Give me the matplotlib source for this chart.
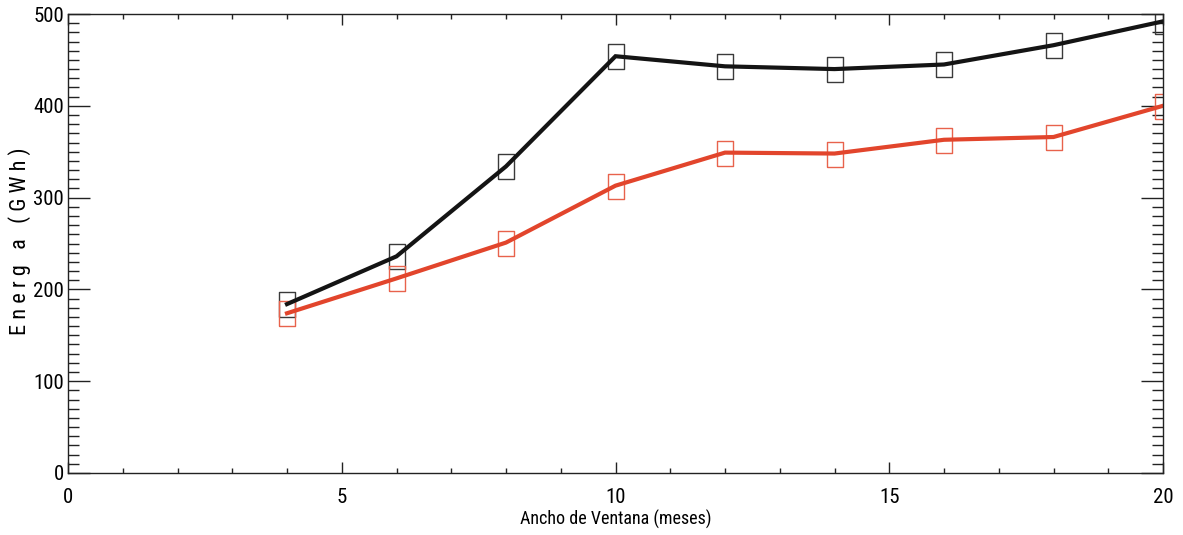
import numpy as np
import matplotlib
matplotlib.use('Agg')
import matplotlib.pyplot as plt
from matplotlib import font_manager
from matplotlib.ticker import MultipleLocator

# prefer a narrow sans face if one is around
nombres = {f.name for f in font_manager.fontManager.ttflist}
familia = 'Liberation Sans'
for cand in ['Liberation Sans Narrow', 'Roboto Condensed', 'Open Sans Condensed',
             'DejaVu Sans Condensed', 'Noto Sans Condensed']:
    if cand in nombres:
        familia = cand
        break
plt.rcParams['font.family'] = [familia, 'DejaVu Sans']
estrecha = familia != 'Liberation Sans'

# window width (months) vs energy for the two series
ancho = [4, 6, 8, 10, 12, 14, 16, 18, 20]
energia_negra = [184, 236, 334, 454, 443, 440, 445, 466, 492]
energia_roja = [174, 212, 251, 313, 349, 348, 363, 366, 400]

color_negro = '#141414'
color_rojo = '#e2452c'

# tall open rectangle used as marker
rect = [(-0.64, -1), (0.64, -1), (0.64, 1), (-0.64, 1), (-0.64, -1)]

fig = plt.figure(figsize=(11.83, 5.35), dpi=100)
ax = fig.add_axes([68 / 1183, 1 - 473 / 535, (1163 - 68) / 1183, (473 - 14) / 535])

ax.plot(ancho, energia_negra, ls='none', marker=rect, markersize=18,
        mfc='none', mec='#3a3a3a', mew=1.0)
ax.plot(ancho, energia_roja, ls='none', marker=rect, markersize=18,
        mfc='none', mec='#e8624c', mew=1.0)
ax.plot(ancho, energia_negra, color=color_negro, lw=3.0, solid_joinstyle='miter')
ax.plot(ancho, energia_roja, color=color_rojo, lw=3.0, solid_joinstyle='miter')

ax.set_xlim(0, 20)
ax.set_ylim(0, 500)
ax.xaxis.set_major_locator(MultipleLocator(5))
ax.xaxis.set_minor_locator(MultipleLocator(1))
ax.yaxis.set_major_locator(MultipleLocator(100))
ax.yaxis.set_minor_locator(MultipleLocator(10))

tam = 15 if estrecha else 13
ax.tick_params(axis='both', which='both', direction='in', top=True, right=True,
               width=1.0, color='#222222', labelsize=tam)
ax.tick_params(axis='x', which='major', length=7.7, pad=11)
ax.tick_params(axis='x', which='minor', length=3.6)
ax.tick_params(axis='y', which='major', length=15.8, pad=3)
ax.tick_params(axis='y', which='minor', length=7.9)
for s in ax.spines.values():
    s.set_linewidth(1.0)
    s.set_color('#222222')

# keep the end labels inside the axis range
ylab = ax.get_yticklabels()
ylab[0].set_va('bottom')
ylab[-1].set_va('top')

ax.set_xlabel('Ancho de Ventana (meses)', fontsize=13 if estrecha else 12, labelpad=2)
ax.set_ylabel('E n e r g   a   ( G W h )', fontsize=16 if estrecha else 14)
ax.yaxis.set_label_coords(-37 / 1095, 0.505)

plt.savefig('out.png', dpi=100)
